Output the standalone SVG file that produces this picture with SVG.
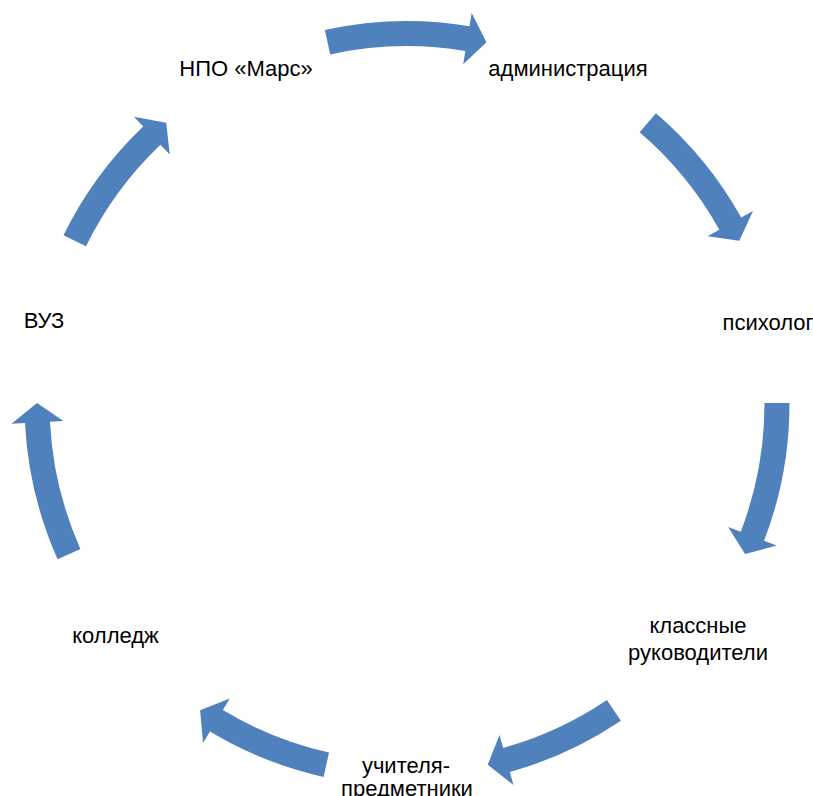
<svg xmlns="http://www.w3.org/2000/svg" xmlns:xlink="http://www.w3.org/1999/xlink" width="813" height="796" viewBox="0 0 813 796">
<style>
text{font-family:'Liberation Sans',Arial,sans-serif;font-size:22px;fill:#000;text-anchor:middle}
.arr{fill:#4F81BD}
</style>
<defs>
<path id="a124" d="M324.86,30.02 A382.5,382.5 0 0 1 469.47,26.24 L471.68,12.92 L486.45,42.23 L463.19,64.22 L465.39,50.90 A357.5,357.5 0 0 0 330.23,54.44 Z"/>
<path id="a1165" d="M329.77,28.98 A382.5,382.5 0 0 1 464.53,25.45 L466.56,12.10 L481.71,41.22 L458.74,63.51 L460.77,50.16 A357.5,357.5 0 0 0 334.82,53.46 Z"/>
<path id="a1205" d="M327.15,29.53 A382.5,382.5 0 0 1 467.16,25.86 L469.29,12.53 L484.24,41.75 L461.11,63.88 L463.23,50.55 A357.5,357.5 0 0 0 332.36,53.98 Z"/>
<path id="a107" d="M335.98,27.75 A382.5,382.5 0 0 1 458.25,24.55 L460.06,11.17 L475.70,40.03 L453.09,62.70 L454.90,49.32 A357.5,357.5 0 0 0 340.62,52.32 Z"/>
</defs>
<rect width="813" height="796" fill="#fff"/>
<g id="connectors" class="arr">
<use href="#a124" xlink:href="#a124"/>
<use href="#a1165" xlink:href="#a1165" transform="rotate(52.25 407 403.6)"/>
<use href="#a1205" xlink:href="#a1205" transform="rotate(101.95 407 403.6)"/>
<use href="#a107" xlink:href="#a107" transform="rotate(156.7 407 403.6)"/>
<use href="#a107" xlink:href="#a107" transform="rotate(203.3 407 403.6)"/>
<use href="#a1205" xlink:href="#a1205" transform="rotate(258.05 407 403.6)"/>
<use href="#a1165" xlink:href="#a1165" transform="rotate(307.75 407 403.6)"/>
</g>
<g id="node-npo"><text x="246" y="76">НПО «Марс»</text></g>
<g id="node-admin"><text x="568" y="76">администрация</text></g>
<g id="node-psych"><text x="768" y="330">психолог</text></g>
<g id="node-class"><text x="698" y="633">классные</text><text x="698" y="660">руководители</text></g>
<g id="node-teach"><text x="406" y="773">учителя-</text><text x="407" y="796">предметники</text></g>
<g id="node-college"><text x="115.5" y="643">колледж</text></g>
<g id="node-vuz"><text x="44" y="328">ВУЗ</text></g>
</svg>
